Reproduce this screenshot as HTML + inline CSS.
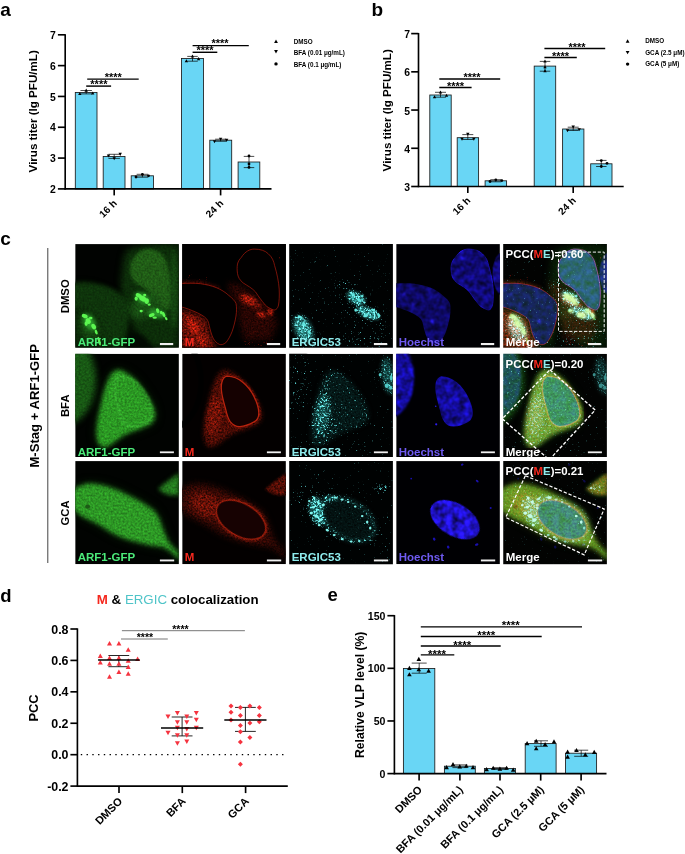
<!DOCTYPE html>
<html lang="en"><head><meta charset="utf-8"><title>Figure</title>
<style>html,body{margin:0;padding:0;background:#fff}svg{display:block;will-change:transform}</style></head>
<body>
<svg width="685" height="854" viewBox="0 0 685 854" font-family="'Liberation Sans', sans-serif">
<rect width="685" height="854" fill="#fff"/>
<defs><filter id="b03" filterUnits="userSpaceOnUse" x="-20" y="-20" width="145" height="145" color-interpolation-filters="sRGB"><feGaussianBlur stdDeviation="0.35"/></filter><filter id="b06" filterUnits="userSpaceOnUse" x="-20" y="-20" width="145" height="145" color-interpolation-filters="sRGB"><feGaussianBlur stdDeviation="0.6"/></filter><filter id="b1" filterUnits="userSpaceOnUse" x="-20" y="-20" width="145" height="145" color-interpolation-filters="sRGB"><feGaussianBlur stdDeviation="1.0"/></filter><filter id="b15" filterUnits="userSpaceOnUse" x="-20" y="-20" width="145" height="145" color-interpolation-filters="sRGB"><feGaussianBlur stdDeviation="1.5"/></filter><filter id="b2" filterUnits="userSpaceOnUse" x="-20" y="-20" width="145" height="145" color-interpolation-filters="sRGB"><feGaussianBlur stdDeviation="2.2"/></filter><filter id="b3" filterUnits="userSpaceOnUse" x="-20" y="-20" width="145" height="145" color-interpolation-filters="sRGB"><feGaussianBlur stdDeviation="3.2"/></filter><filter id="b5" filterUnits="userSpaceOnUse" x="-20" y="-20" width="145" height="145" color-interpolation-filters="sRGB"><feGaussianBlur stdDeviation="5"/></filter><filter id="gr1" filterUnits="userSpaceOnUse" x="0" y="0" width="104" height="104" color-interpolation-filters="sRGB"><feTurbulence type="fractalNoise" baseFrequency="0.5" numOctaves="2" seed="3" result="t"/><feColorMatrix in="t" type="matrix" values="1 0 0 0 0 1 0 0 0 0 1 0 0 0 0 0 0 0 0 1" result="g"/><feComposite in="SourceGraphic" in2="g" operator="arithmetic" k1="0.7" k2="0.65" k3="0" k4="0"/></filter><filter id="gr2" filterUnits="userSpaceOnUse" x="0" y="0" width="104" height="104" color-interpolation-filters="sRGB"><feTurbulence type="fractalNoise" baseFrequency="0.5" numOctaves="2" seed="11" result="t"/><feColorMatrix in="t" type="matrix" values="1 0 0 0 0 1 0 0 0 0 1 0 0 0 0 0 0 0 0 1" result="g"/><feComposite in="SourceGraphic" in2="g" operator="arithmetic" k1="0.7" k2="0.65" k3="0" k4="0"/></filter><filter id="gr3" filterUnits="userSpaceOnUse" x="0" y="0" width="104" height="104" color-interpolation-filters="sRGB"><feTurbulence type="fractalNoise" baseFrequency="0.5" numOctaves="2" seed="23" result="t"/><feColorMatrix in="t" type="matrix" values="1 0 0 0 0 1 0 0 0 0 1 0 0 0 0 0 0 0 0 1" result="g"/><feComposite in="SourceGraphic" in2="g" operator="arithmetic" k1="0.7" k2="0.65" k3="0" k4="0"/></filter><filter id="grn" filterUnits="userSpaceOnUse" x="0" y="0" width="104" height="104" color-interpolation-filters="sRGB"><feTurbulence type="fractalNoise" baseFrequency="0.16" numOctaves="2" seed="7" result="t"/><feColorMatrix in="t" type="matrix" values="1 0 0 0 0 1 0 0 0 0 1 0 0 0 0 0 0 0 0 1" result="g"/><feComposite in="SourceGraphic" in2="g" operator="arithmetic" k1="1.7" k2="0.1" k3="0" k4="0"/></filter><filter id="grn2" filterUnits="userSpaceOnUse" x="0" y="0" width="104" height="104" color-interpolation-filters="sRGB"><feTurbulence type="fractalNoise" baseFrequency="0.16" numOctaves="2" seed="21" result="t"/><feColorMatrix in="t" type="matrix" values="1 0 0 0 0 1 0 0 0 0 1 0 0 0 0 0 0 0 0 1" result="g"/><feComposite in="SourceGraphic" in2="g" operator="arithmetic" k1="1.7" k2="0.1" k3="0" k4="0"/></filter><filter id="grn3" filterUnits="userSpaceOnUse" x="0" y="0" width="104" height="104" color-interpolation-filters="sRGB"><feTurbulence type="fractalNoise" baseFrequency="0.16" numOctaves="2" seed="33" result="t"/><feColorMatrix in="t" type="matrix" values="1 0 0 0 0 1 0 0 0 0 1 0 0 0 0 0 0 0 0 1" result="g"/><feComposite in="SourceGraphic" in2="g" operator="arithmetic" k1="1.7" k2="0.1" k3="0" k4="0"/></filter><filter id="grm" filterUnits="userSpaceOnUse" x="0" y="0" width="104" height="104" color-interpolation-filters="sRGB"><feTurbulence type="fractalNoise" baseFrequency="0.55" numOctaves="2" seed="5" result="t"/><feColorMatrix in="t" type="matrix" values="1 0 0 0 0 1 0 0 0 0 1 0 0 0 0 0 0 0 0 1" result="g"/><feComposite in="SourceGraphic" in2="g" operator="arithmetic" k1="2.0" k2="-0.1" k3="0" k4="0"/></filter><filter id="grm2" filterUnits="userSpaceOnUse" x="0" y="0" width="104" height="104" color-interpolation-filters="sRGB"><feTurbulence type="fractalNoise" baseFrequency="0.55" numOctaves="2" seed="37" result="t"/><feColorMatrix in="t" type="matrix" values="1 0 0 0 0 1 0 0 0 0 1 0 0 0 0 0 0 0 0 1" result="g"/><feComposite in="SourceGraphic" in2="g" operator="arithmetic" k1="2.0" k2="-0.1" k3="0" k4="0"/></filter><filter id="grs" filterUnits="userSpaceOnUse" x="0" y="0" width="104" height="104" color-interpolation-filters="sRGB"><feTurbulence type="fractalNoise" baseFrequency="0.7" numOctaves="2" seed="5" result="t"/><feColorMatrix in="t" type="matrix" values="1 0 0 0 0 1 0 0 0 0 1 0 0 0 0 0 0 0 0 1" result="g"/><feComposite in="SourceGraphic" in2="g" operator="arithmetic" k1="4.2" k2="0" k3="0" k4="-1.7" result="c"/><feColorMatrix in="c" type="matrix" values="1 0 0 0 0 0.13 0 0 0 0 0.06 0 0 0 0 0 0 0 1 0" result="m"/></filter><filter id="grs2" filterUnits="userSpaceOnUse" x="0" y="0" width="104" height="104" color-interpolation-filters="sRGB"><feTurbulence type="fractalNoise" baseFrequency="0.7" numOctaves="2" seed="13" result="t"/><feColorMatrix in="t" type="matrix" values="1 0 0 0 0 1 0 0 0 0 1 0 0 0 0 0 0 0 0 1" result="g"/><feComposite in="SourceGraphic" in2="g" operator="arithmetic" k1="4.2" k2="0" k3="0" k4="-1.7" result="c"/><feColorMatrix in="c" type="matrix" values="1 0 0 0 0 0.13 0 0 0 0 0.06 0 0 0 0 0 0 0 1 0" result="m"/></filter><filter id="grs3" filterUnits="userSpaceOnUse" x="0" y="0" width="104" height="104" color-interpolation-filters="sRGB"><feTurbulence type="fractalNoise" baseFrequency="0.7" numOctaves="2" seed="19" result="t"/><feColorMatrix in="t" type="matrix" values="1 0 0 0 0 1 0 0 0 0 1 0 0 0 0 0 0 0 0 1" result="g"/><feComposite in="SourceGraphic" in2="g" operator="arithmetic" k1="4.2" k2="0" k3="0" k4="-1.7" result="c"/><feColorMatrix in="c" type="matrix" values="1 0 0 0 0 0.13 0 0 0 0 0.06 0 0 0 0 0 0 0 1 0" result="m"/></filter><filter id="grc" filterUnits="userSpaceOnUse" x="0" y="0" width="104" height="104" color-interpolation-filters="sRGB"><feTurbulence type="fractalNoise" baseFrequency="0.52" numOctaves="2" seed="9" result="t"/><feColorMatrix in="t" type="matrix" values="1 0 0 0 0 1 0 0 0 0 1 0 0 0 0 0 0 0 0 1" result="g"/><feComposite in="SourceGraphic" in2="g" operator="arithmetic" k1="6" k2="0" k3="0" k4="-2.4" result="c"/><feColorMatrix in="c" type="matrix" values="0 0.42 0 0 0 0 1 0 0 0 0 0 1 0 0 0 0 0 1 0" result="m"/><feGaussianBlur in="m" stdDeviation="0.42"/></filter><filter id="grc2" filterUnits="userSpaceOnUse" x="0" y="0" width="104" height="104" color-interpolation-filters="sRGB"><feTurbulence type="fractalNoise" baseFrequency="0.52" numOctaves="2" seed="31" result="t"/><feColorMatrix in="t" type="matrix" values="1 0 0 0 0 1 0 0 0 0 1 0 0 0 0 0 0 0 0 1" result="g"/><feComposite in="SourceGraphic" in2="g" operator="arithmetic" k1="6" k2="0" k3="0" k4="-2.4" result="c"/><feColorMatrix in="c" type="matrix" values="0 0.42 0 0 0 0 1 0 0 0 0 0 1 0 0 0 0 0 1 0" result="m"/><feGaussianBlur in="m" stdDeviation="0.42"/></filter><filter id="grc3" filterUnits="userSpaceOnUse" x="0" y="0" width="104" height="104" color-interpolation-filters="sRGB"><feTurbulence type="fractalNoise" baseFrequency="0.52" numOctaves="2" seed="47" result="t"/><feColorMatrix in="t" type="matrix" values="1 0 0 0 0 1 0 0 0 0 1 0 0 0 0 0 0 0 0 1" result="g"/><feComposite in="SourceGraphic" in2="g" operator="arithmetic" k1="6" k2="0" k3="0" k4="-2.4" result="c"/><feColorMatrix in="c" type="matrix" values="0 0.42 0 0 0 0 1 0 0 0 0 0 1 0 0 0 0 0 1 0" result="m"/><feGaussianBlur in="m" stdDeviation="0.42"/></filter><filter id="sp1" filterUnits="userSpaceOnUse" x="0" y="0" width="104" height="104" color-interpolation-filters="sRGB"><feTurbulence type="fractalNoise" baseFrequency="0.65" numOctaves="2" seed="7" result="t"/><feColorMatrix in="t" type="matrix" values="0 0 0 0 1 0 0 0 0 1 0 0 0 0 1 10 0 0 0 -6.0" result="m"/><feComposite in="SourceGraphic" in2="m" operator="in"/></filter><filter id="sp2" filterUnits="userSpaceOnUse" x="0" y="0" width="104" height="104" color-interpolation-filters="sRGB"><feTurbulence type="fractalNoise" baseFrequency="0.65" numOctaves="2" seed="17" result="t"/><feColorMatrix in="t" type="matrix" values="0 0 0 0 1 0 0 0 0 1 0 0 0 0 1 10 0 0 0 -6.0" result="m"/><feComposite in="SourceGraphic" in2="m" operator="in"/></filter><filter id="sp3" filterUnits="userSpaceOnUse" x="0" y="0" width="104" height="104" color-interpolation-filters="sRGB"><feTurbulence type="fractalNoise" baseFrequency="0.65" numOctaves="2" seed="29" result="t"/><feColorMatrix in="t" type="matrix" values="0 0 0 0 1 0 0 0 0 1 0 0 0 0 1 10 0 0 0 -6.0" result="m"/><feComposite in="SourceGraphic" in2="m" operator="in"/></filter><filter id="spd" filterUnits="userSpaceOnUse" x="0" y="0" width="104" height="104" color-interpolation-filters="sRGB"><feTurbulence type="fractalNoise" baseFrequency="0.8" numOctaves="2" seed="41" result="t"/><feColorMatrix in="t" type="matrix" values="0 0 0 0 1 0 0 0 0 1 0 0 0 0 1 12 0 0 0 -8.4" result="m"/><feComposite in="SourceGraphic" in2="m" operator="in"/></filter><clipPath id="pc0"><rect x="0" y="0" width="103.7" height="103.7"/></clipPath><clipPath id="pc1"><rect x="0" y="0" width="103.7" height="103.3"/></clipPath><clipPath id="pc2"><rect x="0" y="0" width="103.7" height="103.1"/></clipPath><g id="g1"><g filter="url(#gr1)"><path d="M50,8C58,0 85,-2 104,0L104,104L66,104C60,92 57,82 54,72C47,62 44,46 46,32C47,22 48,14 50,8Z" fill="#0c2d09" filter="url(#b3)"/><path d="M-2,40C14,36 34,44 46,56C54,68 55,84 52,104L-2,104Z" fill="#0b2a08" filter="url(#b3)"/><path d="M59,13.5C63,7 68,5 72,5C78,5 83,6.5 86,9.6C90,13 91.5,17 92.4,21.4C95,30 96.5,38 97,45C97.3,52 97,57 96.3,60.9C95.5,65 93,66.5 90.8,65.6C88,64.5 85,63 83,60.9C79,56 76,52 73.5,48C70,44 65,41.5 60.9,38.8C57.5,36 55.8,33 55.3,29.3C54.8,26 54.8,23 55.3,19.9C56,17 57.5,15 59,13.5Z" fill="#205c16" filter="url(#b15)"/><path d="M-2,39.6C6,39 12,39 18.3,39.6C24,40.5 29,41.5 34,43.5C39,45.5 43,48 46.7,51.4C50,54 52.5,56.5 53.8,59.3C54.5,63 54.5,67 53.8,71.9C53,77 51.5,83 49.8,87.7C48,92 46,96 43.5,98.7C41.5,100.3 39,101 37.2,100.3C34.5,99 32.5,97 30.9,94C29,90 28,85.5 27,81.4C26.5,79 26,77 24.6,75C22,72 18,70 13.6,68C9,66 4,64 -2,62.4Z" fill="#0e340b" filter="url(#b2)"/><ellipse cx="70" cy="62" rx="17" ry="11" transform="rotate(-30 70 62)" fill="#184f13" filter="url(#b3)"/><ellipse cx="14" cy="84" rx="9" ry="14" transform="rotate(-25 14 84)" fill="#164a11" filter="url(#b3)"/><ellipse cx="99" cy="45" rx="4" ry="40" fill="#154811" filter="url(#b2)"/><path d="M50,106L55,90C61,86 70,89 79,106Z" fill="#020a02" filter="url(#b2)"/></g><g filter="url(#b2)" fill="#2fae30" opacity="0.9"><ellipse cx="67" cy="54" rx="8" ry="4.5" transform="rotate(30 67 54)" /><ellipse cx="82" cy="69.5" rx="9" ry="4" transform="rotate(10 82 69.5)" /><ellipse cx="14" cy="78" rx="5" ry="9" transform="rotate(-30 14 78)" /></g><g filter="url(#b06)" fill="#5cf650"><ellipse cx="63.5" cy="51.5" rx="3.2" ry="2.0" transform="rotate(30 63.5 51.5)" /><ellipse cx="67.5" cy="54.5" rx="3.8" ry="2.6" transform="rotate(30 67.5 54.5)" /><ellipse cx="71.5" cy="57" rx="2.2" ry="2.8" /><ellipse cx="66" cy="67" rx="1.6" ry="1.4" /><ellipse cx="76.5" cy="71" rx="3.0" ry="1.8" transform="rotate(-20 76.5 71)" /><ellipse cx="82.5" cy="66.5" rx="1.6" ry="2.5" transform="rotate(-20 82.5 66.5)" /><ellipse cx="88.5" cy="70.5" rx="1.4" ry="2.9" transform="rotate(-25 88.5 70.5)" /><ellipse cx="9.5" cy="72" rx="3.0" ry="2.0" transform="rotate(20 9.5 72)" /><ellipse cx="13" cy="77" rx="2.4" ry="3.0" transform="rotate(-30 13 77)" /><ellipse cx="18.5" cy="82.5" rx="2.1" ry="3.0" transform="rotate(-30 18.5 82.5)" /><ellipse cx="24" cy="97" rx="1.2" ry="4.5" transform="rotate(-15 24 97)" /><ellipse cx="61" cy="54.5" rx="1.6" ry="2.2" /><ellipse cx="69.5" cy="51" rx="1.6" ry="1.3" /><ellipse cx="74" cy="60.5" rx="1.5" ry="1.2" /><ellipse cx="79.5" cy="73.5" rx="2.2" ry="1.2" /><ellipse cx="86" cy="68.5" rx="1.3" ry="1.8" /><ellipse cx="91" cy="74.5" rx="1.1" ry="1.8" transform="rotate(-30 91 74.5)" /><ellipse cx="11" cy="79.5" rx="1.6" ry="2.4" /><ellipse cx="15.5" cy="74" rx="1.8" ry="1.3" /><ellipse cx="21" cy="88" rx="1.3" ry="2.6" transform="rotate(-20 21 88)" /></g></g><g id="r1"><g filter="url(#grs)"><rect x="0" y="0" width="104" height="104" fill="#000"/><path d="M44,34L60,40L75,50L90,66L97,82L92,104L58,104L55,75L55,58L46,48Z" fill="#aa0000" filter="url(#b2)"/><path d="M-2,66C10,67 21,71 25,79C27,89 30,98 35,104L-2,104Z" fill="#c00000" filter="url(#b15)"/><path d="M-2,24L28,30L40,44L-2,41Z" fill="#a00000" filter="url(#b3)"/><ellipse cx="97" cy="12" rx="6" ry="10" fill="#980000" filter="url(#b2)"/></g><g filter="url(#grm)"><path d="M46,38L60,42L75,52L90,66L95,80L88,96L62,96L57,75L56,60L48,50Z" fill="#2c0603" filter="url(#b3)"/><path d="M-2,66C10,67 21,71 25,79C27,89 30,98 35,104L-2,104Z" fill="#701208" filter="url(#b2)"/><path d="M-2,37L20,37L38,43L36,47L18,42L-2,42Z" fill="#3a0804" filter="url(#b15)"/><ellipse cx="66.5" cy="56" rx="9.5" ry="4.6" transform="rotate(25 66.5 56)" fill="#a81b0b" filter="url(#b15)"/><ellipse cx="79" cy="70.5" rx="4.6" ry="2.8" transform="rotate(20 79 70.5)" fill="#b01c0c" filter="url(#b1)"/><ellipse cx="88" cy="68" rx="3" ry="3.6" fill="#a81b0b" filter="url(#b1)"/><ellipse cx="75" cy="62" rx="5" ry="3" fill="#6c1107" filter="url(#b15)"/><ellipse cx="11" cy="82" rx="4.5" ry="10" transform="rotate(-28 11 82)" fill="#c01e0d" filter="url(#b15)"/><ellipse cx="20" cy="97" rx="4" ry="7" transform="rotate(-20 20 97)" fill="#b01c0c" filter="url(#b15)"/></g><path d="M59,13.5C63,7 68,5 72,5C78,5 83,6.5 86,9.6C90,13 91.5,17 92.4,21.4C95,30 96.5,38 97,45C97.3,52 97,57 96.3,60.9C95.5,65 93,66.5 90.8,65.6C88,64.5 85,63 83,60.9C79,56 76,52 73.5,48C70,44 65,41.5 60.9,38.8C57.5,36 55.8,33 55.3,29.3C54.8,26 54.8,23 55.3,19.9C56,17 57.5,15 59,13.5Z" fill="#020000"/><path d="M-2,39.6C6,39 12,39 18.3,39.6C24,40.5 29,41.5 34,43.5C39,45.5 43,48 46.7,51.4C50,54 52.5,56.5 53.8,59.3C54.5,63 54.5,67 53.8,71.9C53,77 51.5,83 49.8,87.7C48,92 46,96 43.5,98.7C41.5,100.3 39,101 37.2,100.3C34.5,99 32.5,97 30.9,94C29,90 28,85.5 27,81.4C26.5,79 26,77 24.6,75C22,72 18,70 13.6,68C9,66 4,64 -2,62.4Z" fill="#020000"/><path d="M59,13.5C63,7 68,5 72,5C78,5 83,6.5 86,9.6C90,13 91.5,17 92.4,21.4C95,30 96.5,38 97,45C97.3,52 97,57 96.3,60.9C95.5,65 93,66.5 90.8,65.6C88,64.5 85,63 83,60.9C79,56 76,52 73.5,48C70,44 65,41.5 60.9,38.8C57.5,36 55.8,33 55.3,29.3C54.8,26 54.8,23 55.3,19.9C56,17 57.5,15 59,13.5Z" fill="none" stroke="#b81c0d" stroke-width="0.65" filter="url(#b03)"/><path d="M-2,39.6C6,39 12,39 18.3,39.6C24,40.5 29,41.5 34,43.5C39,45.5 43,48 46.7,51.4C50,54 52.5,56.5 53.8,59.3C54.5,63 54.5,67 53.8,71.9C53,77 51.5,83 49.8,87.7C48,92 46,96 43.5,98.7C41.5,100.3 39,101 37.2,100.3C34.5,99 32.5,97 30.9,94C29,90 28,85.5 27,81.4C26.5,79 26,77 24.6,75C22,72 18,70 13.6,68C9,66 4,64 -2,62.4Z" fill="none" stroke="#b81c0d" stroke-width="0.65" filter="url(#b03)"/></g><g id="c1"><g filter="url(#grm)"><ellipse cx="67" cy="54" rx="10" ry="5.5" transform="rotate(28 67 54)" fill="#2a8c88" filter="url(#b15)"/><ellipse cx="79" cy="69" rx="12" ry="5" transform="rotate(22 79 69)" fill="#2a8c88" filter="url(#b15)"/><ellipse cx="14" cy="85" rx="8" ry="14" transform="rotate(-28 14 85)" fill="#2a8884" filter="url(#b2)"/></g><g filter="url(#grc)" style="mix-blend-mode:screen"><rect x="0" y="0" width="104" height="104" fill="#008e8e"/><path d="M44,30L60,36L77,48L93,66L99,82L94,104L56,104L53,75L53,58L44,46Z" fill="#009e9e" filter="url(#b3)"/><ellipse cx="67" cy="54" rx="10.5" ry="6" transform="rotate(28 67 54)" fill="#00d8d8" filter="url(#b15)"/><ellipse cx="79" cy="69" rx="12.5" ry="5.5" transform="rotate(22 79 69)" fill="#00d8d8" filter="url(#b15)"/><ellipse cx="14" cy="84" rx="8.5" ry="15" transform="rotate(-28 14 84)" fill="#00d0d0" filter="url(#b2)"/></g><g filter="url(#b06)" fill="#62e6e0"><ellipse cx="64" cy="50.5" rx="2.0" ry="1.2" transform="rotate(30 64 50.5)" /><ellipse cx="70" cy="56" rx="2.6" ry="1.4" transform="rotate(30 70 56)" /><ellipse cx="73" cy="52" rx="1.4" ry="1.1" /><ellipse cx="66.5" cy="66" rx="1.4" ry="1.6" /><ellipse cx="76.5" cy="71.5" rx="2.6" ry="1.5" transform="rotate(-20 76.5 71.5)" /><ellipse cx="84" cy="66" rx="2.2" ry="1.3" transform="rotate(30 84 66)" /><ellipse cx="89.5" cy="71" rx="1.3" ry="2.3" transform="rotate(-25 89.5 71)" /><ellipse cx="11" cy="73" rx="2.8" ry="1.3" transform="rotate(30 11 73)" /><ellipse cx="15" cy="80" rx="2.4" ry="1.3" transform="rotate(50 15 80)" /><ellipse cx="20" cy="88" rx="2.0" ry="1.3" transform="rotate(50 20 88)" /></g></g><g id="n1"><g filter="url(#grn)"><path d="M59,13.5C63,7 68,5 72,5C78,5 83,6.5 86,9.6C90,13 91.5,17 92.4,21.4C95,30 96.5,38 97,45C97.3,52 97,57 96.3,60.9C95.5,65 93,66.5 90.8,65.6C88,64.5 85,63 83,60.9C79,56 76,52 73.5,48C70,44 65,41.5 60.9,38.8C57.5,36 55.8,33 55.3,29.3C54.8,26 54.8,23 55.3,19.9C56,17 57.5,15 59,13.5Z" fill="#100a78" filter="url(#b06)"/><path d="M-2,39.6C6,39 12,39 18.3,39.6C24,40.5 29,41.5 34,43.5C39,45.5 43,48 46.7,51.4C50,54 52.5,56.5 53.8,59.3C54.5,63 54.5,67 53.8,71.9C53,77 51.5,83 49.8,87.7C48,92 46,96 43.5,98.7C41.5,100.3 39,101 37.2,100.3C34.5,99 32.5,97 30.9,94C29,90 28,85.5 27,81.4C26.5,79 26,77 24.6,75C22,72 18,70 13.6,68C9,66 4,64 -2,62.4Z" fill="#0e0968" filter="url(#b06)"/><ellipse cx="109" cy="31" rx="12.5" ry="23" transform="rotate(-5 109 31)" fill="#120b80" filter="url(#b06)"/><path d="M59,13.5C63,7 68,5 72,5C78,5 83,6.5 86,9.6C90,13 91.5,17 92.4,21.4C95,30 96.5,38 97,45C97.3,52 97,57 96.3,60.9C95.5,65 93,66.5 90.8,65.6C88,64.5 85,63 83,60.9C79,56 76,52 73.5,48C70,44 65,41.5 60.9,38.8C57.5,36 55.8,33 55.3,29.3C54.8,26 54.8,23 55.3,19.9C56,17 57.5,15 59,13.5Z" fill="none" stroke="#1a10a8" stroke-width="1" filter="url(#b06)"/><g fill="#2216c8" filter="url(#b1)"><ellipse cx="72" cy="22" rx="2" ry="1.5" /><ellipse cx="77" cy="30" rx="1.5" ry="1.5" /><ellipse cx="87" cy="44" rx="1.5" ry="1.5" /><ellipse cx="66" cy="14" rx="1.5" ry="1.2" /><ellipse cx="17" cy="60" rx="2" ry="1.5" /><ellipse cx="36" cy="77" rx="1.8" ry="1.8" /><ellipse cx="8" cy="50" rx="2" ry="1.5" /></g></g></g><g id="g2"><g filter="url(#gr2)"><ellipse cx="-13" cy="26" rx="34" ry="46" fill="#185814" filter="url(#b3)"/><path d="M43.5,16C50,18 56,22 60.9,27C66,33 70,39 73.5,44.5C77,50 79,55 79.8,60.2C80,65 78,69 73.5,71.3C66,75 57,77.5 49.8,80.7C44,84 39,88.5 34,91.8C30,94 26.5,94 24.6,91.8C22,88 21,82 21.4,76C22,67 24,58 26.2,49.2C28,40 30.5,31 34,24C36.5,19 40,16 43.5,16Z" fill="#0d300b" filter="url(#b5)"/><path d="M43.5,16C50,18 56,22 60.9,27C66,33 70,39 73.5,44.5C77,50 79,55 79.8,60.2C80,65 78,69 73.5,71.3C66,75 57,77.5 49.8,80.7C44,84 39,88.5 34,91.8C30,94 26.5,94 24.6,91.8C22,88 21,82 21.4,76C22,67 24,58 26.2,49.2C28,40 30.5,31 34,24C36.5,19 40,16 43.5,16Z" fill="#2b9823" filter="url(#b2)"/><path d="M45,22.4C51,22.5 56.5,25 60.9,28.7C66,33 69.5,38 71.9,42.9C74.5,48 76.3,53.5 76.6,58.6C76.8,63 75,66.5 71.9,68.1C67.5,70.5 62.5,72.5 57.7,72.8C53.5,73 50.5,71 48.2,68.1C45.5,64.5 44.5,60 43.5,55.5C42,50 40.5,45 39.6,39.7C39,36 38.8,32 39.6,28.7C40.5,25 42.5,22.8 45,22.4Z" fill="none" stroke="#40b838" stroke-width="1.2" filter="url(#b1)"/></g></g><g id="r2"><g filter="url(#grs2)"><ellipse cx="-13" cy="28" rx="32" ry="47" fill="none" stroke="#a80000" stroke-width="6" filter="url(#b2)"/></g><g filter="url(#grm)"><path d="M43.5,16C50,18 56,22 60.9,27C66,33 70,39 73.5,44.5C77,50 79,55 79.8,60.2C80,65 78,69 73.5,71.3C66,75 57,77.5 49.8,80.7C44,84 39,88.5 34,91.8C30,94 26.5,94 24.6,91.8C22,88 21,82 21.4,76C22,67 24,58 26.2,49.2C28,40 30.5,31 34,24C36.5,19 40,16 43.5,16Z" fill="#520d05" filter="url(#b2)"/><ellipse cx="32" cy="62" rx="7" ry="20" transform="rotate(8 32 62)" fill="#7c1408" filter="url(#b2)"/><path d="M45,22.4C51,22.5 56.5,25 60.9,28.7C66,33 69.5,38 71.9,42.9C74.5,48 76.3,53.5 76.6,58.6C76.8,63 75,66.5 71.9,68.1C67.5,70.5 62.5,72.5 57.7,72.8C53.5,73 50.5,71 48.2,68.1C45.5,64.5 44.5,60 43.5,55.5C42,50 40.5,45 39.6,39.7C39,36 38.8,32 39.6,28.7C40.5,25 42.5,22.8 45,22.4Z" fill="none" stroke="#6a1107" stroke-width="3.5" filter="url(#b1)"/></g><path d="M45,22.4C51,22.5 56.5,25 60.9,28.7C66,33 69.5,38 71.9,42.9C74.5,48 76.3,53.5 76.6,58.6C76.8,63 75,66.5 71.9,68.1C67.5,70.5 62.5,72.5 57.7,72.8C53.5,73 50.5,71 48.2,68.1C45.5,64.5 44.5,60 43.5,55.5C42,50 40.5,45 39.6,39.7C39,36 38.8,32 39.6,28.7C40.5,25 42.5,22.8 45,22.4Z" fill="#150101" filter="url(#b06)"/><path d="M45,22.4C51,22.5 56.5,25 60.9,28.7C66,33 69.5,38 71.9,42.9C74.5,48 76.3,53.5 76.6,58.6C76.8,63 75,66.5 71.9,68.1C67.5,70.5 62.5,72.5 57.7,72.8C53.5,73 50.5,71 48.2,68.1C45.5,64.5 44.5,60 43.5,55.5C42,50 40.5,45 39.6,39.7C39,36 38.8,32 39.6,28.7C40.5,25 42.5,22.8 45,22.4Z" fill="none" stroke="#b8230e" stroke-width="1.3" filter="url(#b06)"/></g><g id="c2"><g filter="url(#grm2)"><path d="M43.5,16C50,18 56,22 60.9,27C66,33 70,39 73.5,44.5C77,50 79,55 79.8,60.2C80,65 78,69 73.5,71.3C66,75 57,77.5 49.8,80.7C44,84 39,88.5 34,91.8C30,94 26.5,94 24.6,91.8C22,88 21,82 21.4,76C22,67 24,58 26.2,49.2C28,40 30.5,31 34,24C36.5,19 40,16 43.5,16Z" fill="#051a19" filter="url(#b2)"/><ellipse cx="33" cy="60" rx="7" ry="20" transform="rotate(8 33 60)" fill="#14504d" filter="url(#b2)"/><ellipse cx="99" cy="22" rx="6" ry="18" transform="rotate(-8 99 22)" fill="#14504d" filter="url(#b2)"/></g><g filter="url(#grc2)" style="mix-blend-mode:screen"><rect x="0" y="0" width="104" height="104" fill="#008e8e"/><ellipse cx="-8" cy="25" rx="30" ry="45" fill="#009c9c" filter="url(#b3)"/><path d="M43.5,16C50,18 56,22 60.9,27C66,33 70,39 73.5,44.5C77,50 79,55 79.8,60.2C80,65 78,69 73.5,71.3C66,75 57,77.5 49.8,80.7C44,84 39,88.5 34,91.8C30,94 26.5,94 24.6,91.8C22,88 21,82 21.4,76C22,67 24,58 26.2,49.2C28,40 30.5,31 34,24C36.5,19 40,16 43.5,16Z" fill="#00b0b0" filter="url(#b2)"/><ellipse cx="33" cy="60" rx="8" ry="22" transform="rotate(8 33 60)" fill="#00cccc" filter="url(#b2)"/><ellipse cx="99" cy="22" rx="7" ry="20" transform="rotate(-8 99 22)" fill="#00b8b8" filter="url(#b2)"/><path d="M45,22.4C51,22.5 56.5,25 60.9,28.7C66,33 69.5,38 71.9,42.9C74.5,48 76.3,53.5 76.6,58.6C76.8,63 75,66.5 71.9,68.1C67.5,70.5 62.5,72.5 57.7,72.8C53.5,73 50.5,71 48.2,68.1C45.5,64.5 44.5,60 43.5,55.5C42,50 40.5,45 39.6,39.7C39,36 38.8,32 39.6,28.7C40.5,25 42.5,22.8 45,22.4Z" fill="#009696" filter="url(#b15)" opacity="0.85"/></g><g filter="url(#b06)" fill="#4fc8c4"><ellipse cx="91" cy="21" rx="1.5" ry="1.8" /><ellipse cx="97.5" cy="32" rx="2.0" ry="2.2" /><ellipse cx="102" cy="24" rx="1.4" ry="2.8" /><ellipse cx="101.5" cy="34" rx="1.5" ry="2.0" /></g></g><g id="n2"><g filter="url(#grn2)"><ellipse cx="-12" cy="24" rx="30" ry="42" fill="#150da4" filter="url(#b1)"/><path d="M45,22.4C51,22.5 56.5,25 60.9,28.7C66,33 69.5,38 71.9,42.9C74.5,48 76.3,53.5 76.6,58.6C76.8,63 75,66.5 71.9,68.1C67.5,70.5 62.5,72.5 57.7,72.8C53.5,73 50.5,71 48.2,68.1C45.5,64.5 44.5,60 43.5,55.5C42,50 40.5,45 39.6,39.7C39,36 38.8,32 39.6,28.7C40.5,25 42.5,22.8 45,22.4Z" fill="#140c9c" filter="url(#b06)"/></g><ellipse cx="39.5" cy="52.5" rx="0.8" ry="0.8" fill="#2418d8"/><ellipse cx="40" cy="70.5" rx="1.1" ry="1.1" fill="#2a1cf0"/></g><g id="g3"><g filter="url(#gr3)"><path d="M-2,28.7C4,25 9,22.8 13.6,22.4C22,22.5 30,24.5 37.2,27.1C45,30 53,34 60.9,38.2C67,41.5 73,45 78.2,49.2C82,53 84.5,58 86,63.4C88,69 90,74.5 92.4,79.1C94,82 98,86 104,92L104,99C98,92 92,87 86,85.4C77,84.5 69,83 60.9,80.7C54,79 48,77 42,74.4C36,71.5 31,68.5 26.2,65C20,61.5 13.5,58.5 7.3,55.5C4,53.5 2,51 -2,47.6Z" fill="#0d300b" filter="url(#b5)"/><path d="M-2,28.7C4,25 9,22.8 13.6,22.4C22,22.5 30,24.5 37.2,27.1C45,30 53,34 60.9,38.2C67,41.5 73,45 78.2,49.2C82,53 84.5,58 86,63.4C88,69 90,74.5 92.4,79.1C94,82 98,86 104,92L104,99C98,92 92,87 86,85.4C77,84.5 69,83 60.9,80.7C54,79 48,77 42,74.4C36,71.5 31,68.5 26.2,65C20,61.5 13.5,58.5 7.3,55.5C4,53.5 2,51 -2,47.6Z" fill="#2d9825" filter="url(#b2)"/><path d="M104,12C96,17.5 89,22.5 83,28C86,30.5 89,32.5 92.4,33.4C96,34.2 99.5,34.4 104,34.2Z" fill="#257e1f" filter="url(#b2)"/></g><ellipse cx="12.5" cy="45.5" rx="2.4" ry="2.2" fill="#1d5a16" filter="url(#b06)"/></g><g id="r3"><g filter="url(#grm2)"><path d="M-2,28.7C4,25 9,22.8 13.6,22.4C22,22.5 30,24.5 37.2,27.1C45,30 53,34 60.9,38.2C67,41.5 73,45 78.2,49.2C82,53 84.5,58 86,63.4C88,69 90,74.5 92.4,79.1C94,82 98,86 104,92L104,99C98,92 92,87 86,85.4C77,84.5 69,83 60.9,80.7C54,79 48,77 42,74.4C36,71.5 31,68.5 26.2,65C20,61.5 13.5,58.5 7.3,55.5C4,53.5 2,51 -2,47.6Z" fill="#3a0904" filter="url(#b3)"/><ellipse cx="24" cy="44" rx="17" ry="11" transform="rotate(25 24 44)" fill="#741308" filter="url(#b3)"/><ellipse cx="58.8" cy="58.6" rx="27.2" ry="16" transform="rotate(31 58.8 58.6)" fill="none" stroke="#6c1208" stroke-width="4" filter="url(#b1)"/><path d="M104,12C96,17.5 89,22.5 83,28C86,30.5 89,32.5 92.4,33.4C96,34.2 99.5,34.4 104,34.2Z" fill="#5c0f06" filter="url(#b1)"/></g><ellipse cx="58.8" cy="58.6" rx="27.2" ry="16" transform="rotate(31 58.8 58.6)" fill="#170202" filter="url(#b06)"/><ellipse cx="58.8" cy="58.6" rx="27.2" ry="16" transform="rotate(31 58.8 58.6)" fill="none" stroke="#ac200c" stroke-width="1.2" filter="url(#b06)"/></g><g id="c3"><g filter="url(#grm)"><ellipse cx="58.8" cy="58.6" rx="27.2" ry="16" transform="rotate(31 58.8 58.6)" fill="none" stroke="#0c302e" stroke-width="7" filter="url(#b2)"/><ellipse cx="29" cy="50" rx="7.5" ry="14" transform="rotate(-20 29 50)" fill="#1f6f6b" filter="url(#b2)"/><ellipse cx="42" cy="38" rx="8" ry="3" transform="rotate(5 42 38)" fill="#195b58" filter="url(#b15)"/><ellipse cx="58.8" cy="58.6" rx="27.2" ry="16" transform="rotate(31 58.8 58.6)" fill="#041413" filter="url(#b15)"/></g><g filter="url(#grc3)" style="mix-blend-mode:screen"><rect x="0" y="0" width="104" height="104" fill="#008b8b"/><path d="M-2,28.7C4,25 9,22.8 13.6,22.4C22,22.5 30,24.5 37.2,27.1C45,30 53,34 60.9,38.2C67,41.5 73,45 78.2,49.2C82,53 84.5,58 86,63.4C88,69 90,74.5 92.4,79.1C94,82 98,86 104,92L104,99C98,92 92,87 86,85.4C77,84.5 69,83 60.9,80.7C54,79 48,77 42,74.4C36,71.5 31,68.5 26.2,65C20,61.5 13.5,58.5 7.3,55.5C4,53.5 2,51 -2,47.6Z" fill="#009898" filter="url(#b3)"/><ellipse cx="58.8" cy="58.6" rx="27.2" ry="16" transform="rotate(31 58.8 58.6)" fill="none" stroke="#00bcbc" stroke-width="7" filter="url(#b15)"/><ellipse cx="29" cy="50" rx="8" ry="15" transform="rotate(-20 29 50)" fill="#00e0e0" filter="url(#b2)"/><ellipse cx="42" cy="38" rx="9" ry="3.5" transform="rotate(5 42 38)" fill="#00d0d0" filter="url(#b15)"/><ellipse cx="92" cy="27" rx="8" ry="4" fill="#00c4c4" filter="url(#b15)"/><ellipse cx="58.8" cy="58.6" rx="27.2" ry="16" transform="rotate(31 58.8 58.6)" fill="#008888" filter="url(#b15)"/></g><g filter="url(#b06)" fill="#7ff5ee"><ellipse cx="25" cy="37" rx="1.3" ry="1.3" /><ellipse cx="29" cy="41" rx="1.5" ry="1.2" /><ellipse cx="24" cy="46" rx="1.4" ry="1.2" /><ellipse cx="22" cy="52" rx="1.7" ry="1.4" /><ellipse cx="27" cy="55" rx="2.0" ry="1.7" /><ellipse cx="31" cy="59" rx="1.9" ry="1.5" /><ellipse cx="30" cy="64" rx="1.4" ry="1.2" /><ellipse cx="38" cy="69" rx="1.7" ry="1.2" transform="rotate(30 38 69)" /><ellipse cx="46" cy="36.5" rx="1.9" ry="1.1" /><ellipse cx="73" cy="55" rx="1.3" ry="1.1" /><ellipse cx="78" cy="61" rx="1.2" ry="1.6" /><ellipse cx="53" cy="38.5" rx="1.5" ry="1.1" /><ellipse cx="59" cy="41" rx="1.3" ry="1.0" /><ellipse cx="66" cy="45.5" rx="1.3" ry="1.1" /><ellipse cx="45" cy="74" rx="1.5" ry="1.1" /><ellipse cx="53" cy="78" rx="1.6" ry="1.2" /><ellipse cx="62" cy="80.5" rx="1.4" ry="1.1" /><ellipse cx="70" cy="80" rx="1.3" ry="1.0" /><ellipse cx="81" cy="67" rx="1.2" ry="1.5" /><ellipse cx="34" cy="44" rx="1.6" ry="1.3" /><ellipse cx="20" cy="40" rx="1.2" ry="1.1" /></g></g><g id="n3"><g filter="url(#grn3)"><ellipse cx="58.8" cy="58.6" rx="27.2" ry="16" transform="rotate(31 58.8 58.6)" fill="#2012cc" filter="url(#b06)"/></g><g fill="#1a10b0" filter="url(#b03)"><ellipse cx="38" cy="78" rx="1.2" ry="1.6" transform="rotate(-30 38 78)" /><ellipse cx="52" cy="86" rx="1.2" ry="1.5" transform="rotate(-30 52 86)" /><ellipse cx="80.5" cy="83.5" rx="1.8" ry="1.1" transform="rotate(-20 80.5 83.5)" /><ellipse cx="81" cy="20" rx="1.6" ry="1.0" transform="rotate(40 81 20)" /><ellipse cx="66" cy="3.5" rx="1.4" ry="0.9" transform="rotate(-30 66 3.5)" /><ellipse cx="94.5" cy="47" rx="1" ry="1" /><ellipse cx="15" cy="17.5" rx="0.9" ry="0.9" /></g></g></defs>
<text x="0.2" y="15.7" font-size="19" font-weight="bold" text-anchor="start" fill="#000" >a</text>
<rect x="75.3" y="92.5" width="21.7" height="96.4" fill="#69D6F5" stroke="#1a1a1a" stroke-width="0.85"/>
<rect x="103.2" y="156.5" width="21.8" height="32.4" fill="#69D6F5" stroke="#1a1a1a" stroke-width="0.85"/>
<rect x="131.2" y="175.8" width="22.3" height="13.1" fill="#69D6F5" stroke="#1a1a1a" stroke-width="0.85"/>
<rect x="181.5" y="58.5" width="22" height="130.4" fill="#69D6F5" stroke="#1a1a1a" stroke-width="0.85"/>
<rect x="209.8" y="140.2" width="21.9" height="48.7" fill="#69D6F5" stroke="#1a1a1a" stroke-width="0.85"/>
<rect x="238.1" y="162" width="21.7" height="26.9" fill="#69D6F5" stroke="#1a1a1a" stroke-width="0.85"/>
<line x1="65.2" y1="34.2" x2="65.2" y2="189.55" stroke="#000" stroke-width="1.65" />
<line x1="64.55" y1="188.9" x2="271.5" y2="188.9" stroke="#000" stroke-width="1.65" />
<line x1="57.9" y1="34.8" x2="65.2" y2="34.8" stroke="#000" stroke-width="1.65" />
<text x="55.9" y="39" font-size="10.4" font-weight="bold" text-anchor="end" fill="#000" >7</text>
<line x1="57.9" y1="65.62" x2="65.2" y2="65.62" stroke="#000" stroke-width="1.65" />
<text x="55.9" y="69.82" font-size="10.4" font-weight="bold" text-anchor="end" fill="#000" >6</text>
<line x1="57.9" y1="96.44" x2="65.2" y2="96.44" stroke="#000" stroke-width="1.65" />
<text x="55.9" y="100.64" font-size="10.4" font-weight="bold" text-anchor="end" fill="#000" >5</text>
<line x1="57.9" y1="127.26" x2="65.2" y2="127.26" stroke="#000" stroke-width="1.65" />
<text x="55.9" y="131.46" font-size="10.4" font-weight="bold" text-anchor="end" fill="#000" >4</text>
<line x1="57.9" y1="158.08" x2="65.2" y2="158.08" stroke="#000" stroke-width="1.65" />
<text x="55.9" y="162.28" font-size="10.4" font-weight="bold" text-anchor="end" fill="#000" >3</text>
<line x1="57.9" y1="188.9" x2="65.2" y2="188.9" stroke="#000" stroke-width="1.65" />
<text x="55.9" y="193.1" font-size="10.4" font-weight="bold" text-anchor="end" fill="#000" >2</text>
<line x1="114.2" y1="188.9" x2="114.2" y2="195.4" stroke="#000" stroke-width="1.65" />
<line x1="220.6" y1="188.9" x2="220.6" y2="195.4" stroke="#000" stroke-width="1.65" />
<text x="0" y="0" transform="translate(36.9 111.3) rotate(-90)" font-size="11.6" font-weight="bold" text-anchor="middle" fill="#000" >Virus titer (lg PFU/mL)</text>
<text x="0" y="0" transform="translate(117.5 204) rotate(-45)" font-size="10" font-weight="bold" text-anchor="end" fill="#000" >16 h</text>
<text x="0" y="0" transform="translate(224 204) rotate(-45)" font-size="10" font-weight="bold" text-anchor="end" fill="#000" >24 h</text>
<line x1="86.2" y1="90.5" x2="86.2" y2="93.9" stroke="#000" stroke-width="0.7" />
<line x1="80.45" y1="90.5" x2="91.95" y2="90.5" stroke="#000" stroke-width="0.7" />
<line x1="80.45" y1="93.9" x2="91.95" y2="93.9" stroke="#000" stroke-width="0.7" />
<path d="M79.8 91.9L81.5 94.96L78.1 94.96Z" fill="#000"/>
<path d="M86.2 88.6L87.9 91.66L84.5 91.66Z" fill="#000"/>
<path d="M92.7 91.5L94.4 94.56L91 94.56Z" fill="#000"/>
<line x1="114.2" y1="154.3" x2="114.2" y2="158.4" stroke="#000" stroke-width="0.7" />
<line x1="108.45" y1="154.3" x2="119.95" y2="154.3" stroke="#000" stroke-width="0.7" />
<line x1="108.45" y1="158.4" x2="119.95" y2="158.4" stroke="#000" stroke-width="0.7" />
<path d="M108.5 157.5L110.2 154.44L106.8 154.44Z" fill="#000"/>
<path d="M114.2 160.3L115.9 157.24L112.5 157.24Z" fill="#000"/>
<path d="M120.2 155.9L121.9 152.84L118.5 152.84Z" fill="#000"/>
<line x1="142.4" y1="174.3" x2="142.4" y2="177.2" stroke="#000" stroke-width="0.7" />
<line x1="136.65" y1="174.3" x2="148.15" y2="174.3" stroke="#000" stroke-width="0.7" />
<line x1="136.65" y1="177.2" x2="148.15" y2="177.2" stroke="#000" stroke-width="0.7" />
<circle cx="136" cy="177" r="1.4" fill="#000"/>
<circle cx="142.4" cy="174.3" r="1.4" fill="#000"/>
<circle cx="148.5" cy="175.8" r="1.4" fill="#000"/>
<line x1="192.5" y1="56.4" x2="192.5" y2="61.2" stroke="#000" stroke-width="0.7" />
<line x1="187.25" y1="56.4" x2="197.75" y2="56.4" stroke="#000" stroke-width="0.7" />
<line x1="187.25" y1="61.2" x2="197.75" y2="61.2" stroke="#000" stroke-width="0.7" />
<path d="M186.4 59.3L188.1 62.36L184.7 62.36Z" fill="#000"/>
<path d="M192.5 54.5L194.2 57.56L190.8 57.56Z" fill="#000"/>
<path d="M198.6 57.1L200.3 60.16L196.9 60.16Z" fill="#000"/>
<line x1="220.6" y1="139.2" x2="220.6" y2="141.3" stroke="#000" stroke-width="0.7" />
<line x1="215.1" y1="139.2" x2="226.1" y2="139.2" stroke="#000" stroke-width="0.7" />
<line x1="215.1" y1="141.3" x2="226.1" y2="141.3" stroke="#000" stroke-width="0.7" />
<path d="M214.5 143.2L216.2 140.14L212.8 140.14Z" fill="#000"/>
<path d="M220.6 140.7L222.3 137.64L218.9 137.64Z" fill="#000"/>
<path d="M226.6 141.9L228.3 138.84L224.9 138.84Z" fill="#000"/>
<line x1="249" y1="156.4" x2="249" y2="167.6" stroke="#000" stroke-width="0.7" />
<line x1="243.75" y1="156.4" x2="254.25" y2="156.4" stroke="#000" stroke-width="0.7" />
<line x1="243.75" y1="167.6" x2="254.25" y2="167.6" stroke="#000" stroke-width="0.7" />
<circle cx="249" cy="156" r="1.4" fill="#000"/>
<circle cx="249" cy="164" r="1.4" fill="#000"/>
<circle cx="249" cy="167.4" r="1.4" fill="#000"/>
<line x1="87.2" y1="79.1" x2="138.7" y2="79.1" stroke="#000" stroke-width="1.45" />
<line x1="86.2" y1="86.1" x2="111.1" y2="86.1" stroke="#000" stroke-width="1.45" />
<text x="113.2" y="81.22" font-size="11" font-weight="bold" text-anchor="middle" fill="#000" >****</text>
<text x="98.9" y="88.42" font-size="11" font-weight="bold" text-anchor="middle" fill="#000" >****</text>
<line x1="192.6" y1="45.6" x2="248.8" y2="45.6" stroke="#000" stroke-width="1.45" />
<line x1="192.6" y1="52.3" x2="217.3" y2="52.3" stroke="#000" stroke-width="1.45" />
<text x="220" y="47.42" font-size="11" font-weight="bold" text-anchor="middle" fill="#000" >****</text>
<text x="205" y="54.22" font-size="11" font-weight="bold" text-anchor="middle" fill="#000" >****</text>
<path d="M276 39.6L277.9 43.02L274.1 43.02Z" fill="#000"/>
<path d="M276 53.5L277.9 50.08L274.1 50.08Z" fill="#000"/>
<circle cx="276" cy="63.9" r="1.7" fill="#000"/>
<text x="293.7" y="43.9" font-size="6.3" font-weight="bold" text-anchor="start" fill="#000" >DMSO</text>
<text x="293.7" y="54.6" font-size="6.3" font-weight="bold" text-anchor="start" fill="#000" >BFA (0.01 μg/mL)</text>
<text x="293.7" y="66.8" font-size="6.3" font-weight="bold" text-anchor="start" fill="#000" >BFA (0.1 μg/mL)</text>
<text x="371.6" y="15.5" font-size="19" font-weight="bold" text-anchor="start" fill="#000" >b</text>
<rect x="429.8" y="95" width="21.4" height="91.5" fill="#69D6F5" stroke="#1a1a1a" stroke-width="0.85"/>
<rect x="457.2" y="137.7" width="21.4" height="48.8" fill="#69D6F5" stroke="#1a1a1a" stroke-width="0.85"/>
<rect x="485.1" y="180.8" width="21.5" height="5.7" fill="#69D6F5" stroke="#1a1a1a" stroke-width="0.85"/>
<rect x="534.2" y="66.1" width="21.5" height="120.4" fill="#69D6F5" stroke="#1a1a1a" stroke-width="0.85"/>
<rect x="562.6" y="129" width="21.3" height="57.5" fill="#69D6F5" stroke="#1a1a1a" stroke-width="0.85"/>
<rect x="590.7" y="163.8" width="21.3" height="22.7" fill="#69D6F5" stroke="#1a1a1a" stroke-width="0.85"/>
<line x1="418.5" y1="33" x2="418.5" y2="187.15" stroke="#000" stroke-width="1.65" />
<line x1="417.85" y1="186.5" x2="623.7" y2="186.5" stroke="#000" stroke-width="1.65" />
<line x1="411.2" y1="33.6" x2="418.5" y2="33.6" stroke="#000" stroke-width="1.65" />
<text x="410" y="38.1" font-size="10.4" font-weight="bold" text-anchor="end" fill="#000" >7</text>
<line x1="411.2" y1="71.83" x2="418.5" y2="71.83" stroke="#000" stroke-width="1.65" />
<text x="410" y="76.33" font-size="10.4" font-weight="bold" text-anchor="end" fill="#000" >6</text>
<line x1="411.2" y1="110.05" x2="418.5" y2="110.05" stroke="#000" stroke-width="1.65" />
<text x="410" y="114.55" font-size="10.4" font-weight="bold" text-anchor="end" fill="#000" >5</text>
<line x1="411.2" y1="148.28" x2="418.5" y2="148.28" stroke="#000" stroke-width="1.65" />
<text x="410" y="152.78" font-size="10.4" font-weight="bold" text-anchor="end" fill="#000" >4</text>
<line x1="411.2" y1="186.5" x2="418.5" y2="186.5" stroke="#000" stroke-width="1.65" />
<text x="410" y="191" font-size="10.4" font-weight="bold" text-anchor="end" fill="#000" >3</text>
<line x1="467.8" y1="186.5" x2="467.8" y2="193" stroke="#000" stroke-width="1.65" />
<line x1="573.2" y1="186.5" x2="573.2" y2="193" stroke="#000" stroke-width="1.65" />
<text x="0" y="0" transform="translate(390.9 110.3) rotate(-90)" font-size="11.6" font-weight="bold" text-anchor="middle" fill="#000" >Virus titer (lg PFU/mL)</text>
<text x="0" y="0" transform="translate(471 201.3) rotate(-45)" font-size="10" font-weight="bold" text-anchor="end" fill="#000" >16 h</text>
<text x="0" y="0" transform="translate(576.5 201.3) rotate(-45)" font-size="10" font-weight="bold" text-anchor="end" fill="#000" >24 h</text>
<line x1="440.5" y1="92.3" x2="440.5" y2="97.2" stroke="#000" stroke-width="0.7" />
<line x1="435" y1="92.3" x2="446" y2="92.3" stroke="#000" stroke-width="0.7" />
<line x1="435" y1="97.2" x2="446" y2="97.2" stroke="#000" stroke-width="0.7" />
<path d="M434.5 95.3L436.2 98.36L432.8 98.36Z" fill="#000"/>
<path d="M440.5 90.5L442.2 93.56L438.8 93.56Z" fill="#000"/>
<path d="M446.5 93.8L448.2 96.86L444.8 96.86Z" fill="#000"/>
<line x1="467.8" y1="134.6" x2="467.8" y2="139.5" stroke="#000" stroke-width="0.7" />
<line x1="462.3" y1="134.6" x2="473.3" y2="134.6" stroke="#000" stroke-width="0.7" />
<line x1="462.3" y1="139.5" x2="473.3" y2="139.5" stroke="#000" stroke-width="0.7" />
<path d="M462 140.7L463.7 137.64L460.3 137.64Z" fill="#000"/>
<path d="M467.8 135.7L469.5 132.64L466.1 132.64Z" fill="#000"/>
<path d="M473.8 140.7L475.5 137.64L472.1 137.64Z" fill="#000"/>
<line x1="495.8" y1="179.7" x2="495.8" y2="181.8" stroke="#000" stroke-width="0.7" />
<line x1="490.3" y1="179.7" x2="501.3" y2="179.7" stroke="#000" stroke-width="0.7" />
<line x1="490.3" y1="181.8" x2="501.3" y2="181.8" stroke="#000" stroke-width="0.7" />
<circle cx="490" cy="181.5" r="1.4" fill="#000"/>
<circle cx="495.8" cy="179.8" r="1.4" fill="#000"/>
<circle cx="501.8" cy="180.6" r="1.4" fill="#000"/>
<line x1="545" y1="61.4" x2="545" y2="71.2" stroke="#000" stroke-width="0.7" />
<line x1="539.75" y1="61.4" x2="550.25" y2="61.4" stroke="#000" stroke-width="0.7" />
<line x1="539.75" y1="71.2" x2="550.25" y2="71.2" stroke="#000" stroke-width="0.7" />
<path d="M545 59.5L546.7 62.56L543.3 62.56Z" fill="#000"/>
<path d="M545 65.3L546.7 68.36L543.3 68.36Z" fill="#000"/>
<path d="M545 69.3L546.7 72.36L543.3 72.36Z" fill="#000"/>
<line x1="573.2" y1="127.2" x2="573.2" y2="130.5" stroke="#000" stroke-width="0.7" />
<line x1="567.7" y1="127.2" x2="578.7" y2="127.2" stroke="#000" stroke-width="0.7" />
<line x1="567.7" y1="130.5" x2="578.7" y2="130.5" stroke="#000" stroke-width="0.7" />
<path d="M567.5 132.2L569.2 129.14L565.8 129.14Z" fill="#000"/>
<path d="M573.2 128.5L574.9 125.44L571.5 125.44Z" fill="#000"/>
<path d="M579.2 131.2L580.9 128.14L577.5 128.14Z" fill="#000"/>
<line x1="601.3" y1="160.4" x2="601.3" y2="166.5" stroke="#000" stroke-width="0.7" />
<line x1="596.05" y1="160.4" x2="606.55" y2="160.4" stroke="#000" stroke-width="0.7" />
<line x1="596.05" y1="166.5" x2="606.55" y2="166.5" stroke="#000" stroke-width="0.7" />
<circle cx="601.3" cy="160.6" r="1.4" fill="#000"/>
<circle cx="607" cy="163.3" r="1.4" fill="#000"/>
<circle cx="601.3" cy="166.5" r="1.4" fill="#000"/>
<line x1="439.3" y1="78.9" x2="500.2" y2="78.9" stroke="#000" stroke-width="1.45" />
<line x1="439.3" y1="87.4" x2="471.6" y2="87.4" stroke="#000" stroke-width="1.45" />
<text x="472" y="81.02" font-size="11" font-weight="bold" text-anchor="middle" fill="#000" >****</text>
<text x="455.5" y="89.52" font-size="11" font-weight="bold" text-anchor="middle" fill="#000" >****</text>
<line x1="544.4" y1="48.5" x2="605.2" y2="48.5" stroke="#000" stroke-width="1.45" />
<line x1="544.4" y1="57.5" x2="576.8" y2="57.5" stroke="#000" stroke-width="1.45" />
<text x="577" y="50.62" font-size="11" font-weight="bold" text-anchor="middle" fill="#000" >****</text>
<text x="560.5" y="59.62" font-size="11" font-weight="bold" text-anchor="middle" fill="#000" >****</text>
<path d="M627.6 39.3L629.5 42.72L625.7 42.72Z" fill="#000"/>
<path d="M627.6 54.3L629.5 50.88L625.7 50.88Z" fill="#000"/>
<circle cx="627.6" cy="64.1" r="1.7" fill="#000"/>
<text x="645.2" y="42.9" font-size="6.3" font-weight="bold" text-anchor="start" fill="#000" >DMSO</text>
<text x="645.2" y="54.5" font-size="6.3" font-weight="bold" text-anchor="start" fill="#000" >GCA (2.5 μM)</text>
<text x="645.2" y="66.3" font-size="6.3" font-weight="bold" text-anchor="start" fill="#000" >GCA (5 μM)</text>
<text x="0.3" y="245.3" font-size="19" font-weight="bold" text-anchor="start" fill="#000" >c</text>
<line x1="47.8" y1="248" x2="47.8" y2="563" stroke="#444" stroke-width="1" />
<text x="0" y="0" transform="translate(38.5 405.8) rotate(-90)" font-size="13.1" font-weight="bold" text-anchor="middle" fill="#000" >M-Stag + ARF1-GFP</text>
<text x="0" y="0" transform="translate(69 296.25) rotate(-90)" font-size="11.3" font-weight="bold" text-anchor="middle" fill="#000" >DMSO</text>
<text x="0" y="0" transform="translate(69 405.75) rotate(-90)" font-size="11.3" font-weight="bold" text-anchor="middle" fill="#000" >BFA</text>
<text x="0" y="0" transform="translate(69 512.95) rotate(-90)" font-size="11.3" font-weight="bold" text-anchor="middle" fill="#000" >GCA</text>
<g transform="translate(75.2 244.1)" clip-path="url(#pc0)"><rect x="0" y="0" width="103.7" height="103.7" fill="#010301"/><use href="#g1"/><text x="2.5" y="101.45" font-size="11.5" font-weight="bold" fill="#4CEB7A">ARF1-GFP</text><rect x="84.7" y="98.9" width="13.3" height="2.1" fill="#f0f0f0"/></g>
<g transform="translate(182.2 244.1)" clip-path="url(#pc0)"><rect x="0" y="0" width="103.7" height="103.7" fill="#030000"/><use href="#r1"/><text x="2.5" y="101.45" font-size="11.5" font-weight="bold" fill="#F5281E">M</text><rect x="84.7" y="98.9" width="13.3" height="2.1" fill="#f0f0f0"/></g>
<g transform="translate(289.2 244.1)" clip-path="url(#pc0)"><rect x="0" y="0" width="103.7" height="103.7" fill="#000202"/><use href="#c1"/><text x="2.5" y="101.45" font-size="11.5" font-weight="bold" fill="#8FEDEE">ERGIC53</text><rect x="84.7" y="98.9" width="13.3" height="2.1" fill="#f0f0f0"/></g>
<g transform="translate(396.2 244.1)" clip-path="url(#pc0)"><rect x="0" y="0" width="103.7" height="103.7" fill="#000003"/><use href="#n1"/><text x="2.5" y="101.45" font-size="11.5" font-weight="bold" fill="#6E5AF0">Hoechst</text><rect x="84.7" y="98.9" width="13.3" height="2.1" fill="#f0f0f0"/></g>
<g transform="translate(503.2 244.1)" clip-path="url(#pc0)" style="isolation:isolate"><rect x="0" y="0" width="103.7" height="103.7" fill="#020302"/><use href="#g1" opacity="0.6"/><use href="#n1" style="mix-blend-mode:screen" opacity="0.85"/><use href="#r1" style="mix-blend-mode:screen" opacity="1"/><use href="#c1" style="mix-blend-mode:screen" opacity="1"/><g filter="url(#b1)" fill="#d8ffa0" opacity="0.85"><ellipse cx="66" cy="53.5" rx="6.5" ry="3.2" transform="rotate(32 66 53.5)" /><ellipse cx="71.5" cy="58.5" rx="3" ry="2.2" transform="rotate(20 71.5 58.5)" /><ellipse cx="68" cy="67" rx="2.5" ry="2" /><ellipse cx="78" cy="71" rx="4.5" ry="2.6" transform="rotate(10 78 71)" /><ellipse cx="84.5" cy="67" rx="2.5" ry="2.8" /><ellipse cx="89.5" cy="71.5" rx="2" ry="3.2" transform="rotate(-25 89.5 71.5)" /><ellipse cx="10" cy="73" rx="4" ry="2.6" transform="rotate(25 10 73)" /><ellipse cx="14.5" cy="79.5" rx="3" ry="4.2" transform="rotate(-30 14.5 79.5)" /><ellipse cx="20" cy="87" rx="2.4" ry="4.5" transform="rotate(-25 20 87)" /></g><g style="mix-blend-mode:screen"><path d="M59,13.5C63,7 68,5 72,5C78,5 83,6.5 86,9.6C90,13 91.5,17 92.4,21.4C95,30 96.5,38 97,45C97.3,52 97,57 96.3,60.9C95.5,65 93,66.5 90.8,65.6C88,64.5 85,63 83,60.9C79,56 76,52 73.5,48C70,44 65,41.5 60.9,38.8C57.5,36 55.8,33 55.3,29.3C54.8,26 54.8,23 55.3,19.9C56,17 57.5,15 59,13.5Z" fill="#0c3412" filter="url(#b1)"/></g><rect x="55.3" y="8" width="45.7" height="79.3" fill="none" stroke="#fff" stroke-width="0.95" stroke-dasharray="3.2 1.7"/><text x="2.3" y="13.8" font-size="11.45" font-weight="bold" fill="#fff">PCC(<tspan fill="#F5281E">M</tspan><tspan fill="#8FEDEE">E</tspan>)=0.60</text><text x="2.5" y="101.45" font-size="11.5" font-weight="bold" fill="#fff">Merge</text><rect x="84.7" y="98.9" width="13.3" height="2.1" fill="#f0f0f0"/></g>
<g transform="translate(75.2 353.8)" clip-path="url(#pc1)"><rect x="0" y="0" width="103.7" height="103.3" fill="#010301"/><use href="#g2"/><text x="2.5" y="101.85" font-size="11.5" font-weight="bold" fill="#4CEB7A">ARF1-GFP</text><rect x="84.7" y="97.6" width="14.0" height="1.8" fill="#f0f0f0"/></g>
<g transform="translate(182.2 353.8)" clip-path="url(#pc1)"><rect x="0" y="0" width="103.7" height="103.3" fill="#030000"/><use href="#r2"/><text x="2.5" y="101.85" font-size="11.5" font-weight="bold" fill="#F5281E">M</text><rect x="84.7" y="97.6" width="14.0" height="1.8" fill="#f0f0f0"/></g>
<g transform="translate(289.2 353.8)" clip-path="url(#pc1)"><rect x="0" y="0" width="103.7" height="103.3" fill="#000202"/><use href="#c2"/><text x="2.5" y="101.85" font-size="11.5" font-weight="bold" fill="#8FEDEE">ERGIC53</text><rect x="84.7" y="97.6" width="14.0" height="1.8" fill="#f0f0f0"/></g>
<g transform="translate(396.2 353.8)" clip-path="url(#pc1)"><rect x="0" y="0" width="103.7" height="103.3" fill="#000003"/><use href="#n2"/><text x="2.5" y="101.85" font-size="11.5" font-weight="bold" fill="#6E5AF0">Hoechst</text><rect x="84.7" y="97.6" width="14.0" height="1.8" fill="#f0f0f0"/></g>
<g transform="translate(503.2 353.8)" clip-path="url(#pc1)" style="isolation:isolate"><rect x="0" y="0" width="103.7" height="103.3" fill="#020302"/><use href="#g2" opacity="0.9"/><use href="#n2" style="mix-blend-mode:screen" opacity="0.45"/><use href="#r2" style="mix-blend-mode:screen" opacity="0.8"/><use href="#c2" style="mix-blend-mode:screen" opacity="0.7"/><g style="mix-blend-mode:screen"><path d="M43.5,16C50,18 56,22 60.9,27C66,33 70,39 73.5,44.5C77,50 79,55 79.8,60.2C80,65 78,69 73.5,71.3C66,75 57,77.5 49.8,80.7C44,84 39,88.5 34,91.8C30,94 26.5,94 24.6,91.8C22,88 21,82 21.4,76C22,67 24,58 26.2,49.2C28,40 30.5,31 34,24C36.5,19 40,16 43.5,16Z" fill="#1e1a00" filter="url(#b2)"/><path d="M45,22.4C51,22.5 56.5,25 60.9,28.7C66,33 69.5,38 71.9,42.9C74.5,48 76.3,53.5 76.6,58.6C76.8,63 75,66.5 71.9,68.1C67.5,70.5 62.5,72.5 57.7,72.8C53.5,73 50.5,71 48.2,68.1C45.5,64.5 44.5,60 43.5,55.5C42,50 40.5,45 39.6,39.7C39,36 38.8,32 39.6,28.7C40.5,25 42.5,22.8 45,22.4Z" fill="#000" filter="url(#b06)"/></g><path d="M46.7,16L92,56.3L46,106L-1,65Z" fill="none" stroke="#fff" stroke-width="1.35" stroke-dasharray="3.4 1.8"/><text x="2.3" y="13.8" font-size="11.45" font-weight="bold" fill="#fff">PCC(<tspan fill="#F5281E">M</tspan><tspan fill="#8FEDEE">E</tspan>)=0.20</text><text x="2.5" y="101.85" font-size="11.5" font-weight="bold" fill="#fff">Merge</text><rect x="84.7" y="97.6" width="14.0" height="1.8" fill="#f0f0f0"/></g>
<g transform="translate(75.2 461.1)" clip-path="url(#pc2)"><rect x="0" y="0" width="103.7" height="103.1" fill="#010301"/><use href="#g3"/><text x="2.5" y="99.7" font-size="11.5" font-weight="bold" fill="#4CEB7A">ARF1-GFP</text><rect x="84.7" y="98.4" width="14.3" height="1.9" fill="#f0f0f0"/></g>
<g transform="translate(182.2 461.1)" clip-path="url(#pc2)"><rect x="0" y="0" width="103.7" height="103.1" fill="#030000"/><use href="#r3"/><text x="2.5" y="99.7" font-size="11.5" font-weight="bold" fill="#F5281E">M</text><rect x="84.7" y="98.4" width="14.3" height="1.9" fill="#f0f0f0"/></g>
<g transform="translate(289.2 461.1)" clip-path="url(#pc2)"><rect x="0" y="0" width="103.7" height="103.1" fill="#000202"/><use href="#c3"/><text x="2.5" y="99.7" font-size="11.5" font-weight="bold" fill="#8FEDEE">ERGIC53</text><rect x="84.7" y="98.4" width="14.3" height="1.9" fill="#f0f0f0"/></g>
<g transform="translate(396.2 461.1)" clip-path="url(#pc2)"><rect x="0" y="0" width="103.7" height="103.1" fill="#000003"/><use href="#n3"/><text x="2.5" y="99.7" font-size="11.5" font-weight="bold" fill="#6E5AF0">Hoechst</text><rect x="84.7" y="98.4" width="14.3" height="1.9" fill="#f0f0f0"/></g>
<g transform="translate(503.2 461.1)" clip-path="url(#pc2)" style="isolation:isolate"><rect x="0" y="0" width="103.7" height="103.1" fill="#020302"/><use href="#g3" opacity="0.86"/><use href="#n3" style="mix-blend-mode:screen" opacity="0.42"/><use href="#r3" style="mix-blend-mode:screen" opacity="0.85"/><use href="#c3" style="mix-blend-mode:screen" opacity="0.75"/><g style="mix-blend-mode:screen"><path d="M-2,28.7C4,25 9,22.8 13.6,22.4C22,22.5 30,24.5 37.2,27.1C45,30 53,34 60.9,38.2C67,41.5 73,45 78.2,49.2C82,53 84.5,58 86,63.4C88,69 90,74.5 92.4,79.1C94,82 98,86 104,92L104,99C98,92 92,87 86,85.4C77,84.5 69,83 60.9,80.7C54,79 48,77 42,74.4C36,71.5 31,68.5 26.2,65C20,61.5 13.5,58.5 7.3,55.5C4,53.5 2,51 -2,47.6Z" fill="#2a2300" filter="url(#b2)"/><path d="M104,12C96,17.5 89,22.5 83,28C86,30.5 89,32.5 92.4,33.4C96,34.2 99.5,34.4 104,34.2Z" fill="#201b00" filter="url(#b15)"/><ellipse cx="58.8" cy="58.6" rx="27.2" ry="16" transform="rotate(31 58.8 58.6)" fill="#000" filter="url(#b06)"/></g><g filter="url(#b06)" fill="#c8fff0" opacity="0.85"><ellipse cx="25" cy="37" rx="1.5" ry="1.5" /><ellipse cx="29" cy="41" rx="1.8" ry="1.4" /><ellipse cx="24" cy="46" rx="1.6" ry="1.4" /><ellipse cx="35" cy="38" rx="2.0" ry="1.3" transform="rotate(-20 35 38)" /><ellipse cx="22" cy="52" rx="2.0" ry="1.6" /><ellipse cx="27" cy="55" rx="2.4" ry="2.0" /><ellipse cx="31" cy="59" rx="2.2" ry="1.8" /><ellipse cx="30" cy="64" rx="1.6" ry="1.4" /><ellipse cx="38" cy="69" rx="2.0" ry="1.4" transform="rotate(30 38 69)" /><ellipse cx="46" cy="36.5" rx="2.2" ry="1.3" /><ellipse cx="19" cy="44" rx="1.4" ry="1.2" /><ellipse cx="34" cy="47" rx="1.4" ry="1.6" /><ellipse cx="51" cy="76" rx="1.5" ry="1.2" /><ellipse cx="73" cy="55" rx="1.4" ry="1.2" /><ellipse cx="78" cy="61" rx="1.3" ry="1.7" /><ellipse cx="88" cy="27" rx="1.3" ry="1.1" /></g><path d="M22.2,14.6L101,47.9L81,93.8L2.5,56.4Z" fill="none" stroke="#fff" stroke-width="1.2" stroke-dasharray="3.4 1.8"/><text x="2.3" y="13.8" font-size="11.45" font-weight="bold" fill="#fff">PCC(<tspan fill="#F5281E">M</tspan><tspan fill="#8FEDEE">E</tspan>)=0.21</text><text x="2.5" y="99.7" font-size="11.5" font-weight="bold" fill="#fff">Merge</text><rect x="84.7" y="98.4" width="14.3" height="1.9" fill="#f0f0f0"/></g>
<text x="0.3" y="602.3" font-size="18.5" font-weight="bold" text-anchor="start" fill="#000" >d</text>
<text x="96.8" y="604" font-size="13.3" font-weight="bold"><tspan fill="#F5281E">M</tspan><tspan fill="#000"> &amp; </tspan><tspan fill="#4FC4C8" font-weight="normal">ERGIC</tspan><tspan fill="#000"> colocalization</tspan></text>
<line x1="77.4" y1="628.35" x2="77.4" y2="786.75" stroke="#000" stroke-width="1.65" />
<line x1="76.75" y1="786.1" x2="287.8" y2="786.1" stroke="#000" stroke-width="1.65" />
<line x1="70.4" y1="629" x2="77.4" y2="629" stroke="#000" stroke-width="1.65" />
<text x="68.5" y="633.5" font-size="12.4" font-weight="bold" text-anchor="end" fill="#000" >0.8</text>
<line x1="70.4" y1="660.42" x2="77.4" y2="660.42" stroke="#000" stroke-width="1.65" />
<text x="68.5" y="664.92" font-size="12.4" font-weight="bold" text-anchor="end" fill="#000" >0.6</text>
<line x1="70.4" y1="691.84" x2="77.4" y2="691.84" stroke="#000" stroke-width="1.65" />
<text x="68.5" y="696.34" font-size="12.4" font-weight="bold" text-anchor="end" fill="#000" >0.4</text>
<line x1="70.4" y1="723.26" x2="77.4" y2="723.26" stroke="#000" stroke-width="1.65" />
<text x="68.5" y="727.76" font-size="12.4" font-weight="bold" text-anchor="end" fill="#000" >0.2</text>
<line x1="70.4" y1="754.68" x2="77.4" y2="754.68" stroke="#000" stroke-width="1.65" />
<text x="68.5" y="759.18" font-size="12.4" font-weight="bold" text-anchor="end" fill="#000" >0.0</text>
<line x1="70.4" y1="786.1" x2="77.4" y2="786.1" stroke="#000" stroke-width="1.65" />
<text x="68.5" y="790.6" font-size="12.4" font-weight="bold" text-anchor="end" fill="#000" >-0.2</text>
<line x1="80.8" y1="754.68" x2="287" y2="754.68" stroke="#000" stroke-width="1.3" stroke-dasharray="1.4 4.35"/>
<line x1="119" y1="786.1" x2="119" y2="793.1" stroke="#000" stroke-width="1.65" />
<line x1="182.3" y1="786.1" x2="182.3" y2="793.1" stroke="#000" stroke-width="1.65" />
<line x1="245.6" y1="786.1" x2="245.6" y2="793.1" stroke="#000" stroke-width="1.65" />
<text x="0" y="0" transform="translate(37.9 708) rotate(-90)" font-size="12.9" font-weight="bold" text-anchor="middle" fill="#000" >PCC</text>
<text x="0" y="0" transform="translate(123 802) rotate(-45)" font-size="11" font-weight="bold" text-anchor="end" fill="#000" >DMSO</text>
<text x="0" y="0" transform="translate(186.3 802) rotate(-45)" font-size="11" font-weight="bold" text-anchor="end" fill="#000" >BFA</text>
<text x="0" y="0" transform="translate(249.6 802) rotate(-45)" font-size="11" font-weight="bold" text-anchor="end" fill="#000" >GCA</text>
<line x1="121.9" y1="630.7" x2="244.9" y2="630.7" stroke="#777" stroke-width="1" />
<line x1="121" y1="639" x2="167.8" y2="639" stroke="#777" stroke-width="1" />
<text x="180.4" y="632.51" font-size="10.5" font-weight="bold" text-anchor="middle" fill="#000" >****</text>
<text x="144.9" y="641.21" font-size="10.5" font-weight="bold" text-anchor="middle" fill="#000" >****</text>
<line x1="108.4" y1="655.5" x2="129.2" y2="655.5" stroke="#000" stroke-width="0.85" />
<line x1="108.4" y1="666.7" x2="129.2" y2="666.7" stroke="#000" stroke-width="0.85" />
<line x1="118.8" y1="655.5" x2="118.8" y2="666.7" stroke="#000" stroke-width="0.85" />
<path d="M109.5 641.1L112 645.6L107 645.6Z" fill="#F5333F"/>
<path d="M118.9 641.1L121.4 645.6L116.4 645.6Z" fill="#F5333F"/>
<path d="M128.2 647.3L130.7 651.8L125.7 651.8Z" fill="#F5333F"/>
<path d="M100.3 653.5L102.8 658L97.8 658Z" fill="#F5333F"/>
<path d="M109.5 655.4L112 659.9L107 659.9Z" fill="#F5333F"/>
<path d="M118.9 655.4L121.4 659.9L116.4 659.9Z" fill="#F5333F"/>
<path d="M128.2 658.3L130.7 662.8L125.7 662.8Z" fill="#F5333F"/>
<path d="M137.6 656.5L140.1 661L135.1 661Z" fill="#F5333F"/>
<path d="M100.3 660L102.8 664.5L97.8 664.5Z" fill="#F5333F"/>
<path d="M109.5 661.2L112 665.7L107 665.7Z" fill="#F5333F"/>
<path d="M118.9 661.2L121.4 665.7L116.4 665.7Z" fill="#F5333F"/>
<path d="M128.2 664.4L130.7 668.9L125.7 668.9Z" fill="#F5333F"/>
<path d="M118.9 669.5L121.4 674L116.4 674Z" fill="#F5333F"/>
<path d="M128.2 671.3L130.7 675.8L125.7 675.8Z" fill="#F5333F"/>
<path d="M109.5 674.3L112 678.8L107 678.8Z" fill="#F5333F"/>
<line x1="98.1" y1="660.1" x2="139.7" y2="660.1" stroke="#000" stroke-width="1.5" />
<line x1="171.7" y1="717" x2="192.5" y2="717" stroke="#000" stroke-width="0.85" />
<line x1="171.7" y1="735.9" x2="192.5" y2="735.9" stroke="#000" stroke-width="0.85" />
<line x1="182.1" y1="717" x2="182.1" y2="735.9" stroke="#000" stroke-width="0.85" />
<path d="M177.4 715.6L179.9 711.1L174.9 711.1Z" fill="#F5333F"/>
<path d="M196.3 715.6L198.8 711.1L193.8 711.1Z" fill="#F5333F"/>
<path d="M168 719.1L170.5 714.6L165.5 714.6Z" fill="#F5333F"/>
<path d="M186.8 719.1L189.3 714.6L184.3 714.6Z" fill="#F5333F"/>
<path d="M196.3 722.3L198.8 717.8L193.8 717.8Z" fill="#F5333F"/>
<path d="M177.4 724.8L179.9 720.3L174.9 720.3Z" fill="#F5333F"/>
<path d="M186.8 724.8L189.3 720.3L184.3 720.3Z" fill="#F5333F"/>
<path d="M177.4 730.3L179.9 725.8L174.9 725.8Z" fill="#F5333F"/>
<path d="M186.8 731.5L189.3 727L184.3 727Z" fill="#F5333F"/>
<path d="M196.3 730.3L198.8 725.8L193.8 725.8Z" fill="#F5333F"/>
<path d="M168 735.2L170.5 730.7L165.5 730.7Z" fill="#F5333F"/>
<path d="M177.4 737.7L179.9 733.2L174.9 733.2Z" fill="#F5333F"/>
<path d="M186.8 737.7L189.3 733.2L184.3 733.2Z" fill="#F5333F"/>
<path d="M177.4 745.7L179.9 741.2L174.9 741.2Z" fill="#F5333F"/>
<path d="M186.8 743.9L189.3 739.4L184.3 739.4Z" fill="#F5333F"/>
<line x1="161" y1="728" x2="203.2" y2="728" stroke="#000" stroke-width="1.5" />
<line x1="235" y1="707.4" x2="255.8" y2="707.4" stroke="#000" stroke-width="0.85" />
<line x1="235" y1="731.4" x2="255.8" y2="731.4" stroke="#000" stroke-width="0.85" />
<line x1="245.4" y1="707.4" x2="245.4" y2="731.4" stroke="#000" stroke-width="0.85" />
<path d="M231 703.6L233.5 706.1L231 708.6L228.5 706.1Z" fill="#F5333F"/>
<path d="M240.4 704.9L242.9 707.4L240.4 709.9L237.9 707.4Z" fill="#F5333F"/>
<path d="M249.9 703.6L252.4 706.1L249.9 708.6L247.4 706.1Z" fill="#F5333F"/>
<path d="M259.3 704.9L261.8 707.4L259.3 709.9L256.8 707.4Z" fill="#F5333F"/>
<path d="M231 709.8L233.5 712.3L231 714.8L228.5 712.3Z" fill="#F5333F"/>
<path d="M240.4 713.1L242.9 715.6L240.4 718.1L237.9 715.6Z" fill="#F5333F"/>
<path d="M259.3 713.1L261.8 715.6L259.3 718.1L256.8 715.6Z" fill="#F5333F"/>
<path d="M231 717.5L233.5 720L231 722.5L228.5 720Z" fill="#F5333F"/>
<path d="M249.9 720.5L252.4 723L249.9 725.5L247.4 723Z" fill="#F5333F"/>
<path d="M259.3 719.3L261.8 721.8L259.3 724.3L256.8 721.8Z" fill="#F5333F"/>
<path d="M240.4 723L242.9 725.5L240.4 728L237.9 725.5Z" fill="#F5333F"/>
<path d="M240.4 729.2L242.9 731.7L240.4 734.2L237.9 731.7Z" fill="#F5333F"/>
<path d="M249.9 734.9L252.4 737.4L249.9 739.9L247.4 737.4Z" fill="#F5333F"/>
<path d="M240.4 739.6L242.9 742.1L240.4 744.6L237.9 742.1Z" fill="#F5333F"/>
<path d="M240.4 761.7L242.9 764.2L240.4 766.7L237.9 764.2Z" fill="#F5333F"/>
<line x1="224.3" y1="720" x2="266.5" y2="720" stroke="#000" stroke-width="1.5" />
<text x="327.6" y="601.3" font-size="18.5" font-weight="bold" text-anchor="start" fill="#000" >e</text>
<rect x="403.4" y="668.5" width="31.4" height="105.1" fill="#69D6F5" stroke="#1a1a1a" stroke-width="0.85"/>
<rect x="444.4" y="766.2" width="30.9" height="7.4" fill="#69D6F5" stroke="#1a1a1a" stroke-width="0.85"/>
<rect x="484.4" y="768.5" width="31.1" height="5.1" fill="#69D6F5" stroke="#1a1a1a" stroke-width="0.85"/>
<rect x="525.2" y="743.6" width="30.9" height="30" fill="#69D6F5" stroke="#1a1a1a" stroke-width="0.85"/>
<rect x="565.5" y="753.2" width="31.1" height="20.4" fill="#69D6F5" stroke="#1a1a1a" stroke-width="0.85"/>
<line x1="394.4" y1="615.05" x2="394.4" y2="774.25" stroke="#000" stroke-width="1.65" />
<line x1="393.75" y1="773.6" x2="606.5" y2="773.6" stroke="#000" stroke-width="1.65" />
<line x1="387.4" y1="615.7" x2="394.4" y2="615.7" stroke="#000" stroke-width="1.65" />
<text x="385.5" y="619.6" font-size="10.6" font-weight="bold" text-anchor="end" fill="#000" >150</text>
<line x1="387.4" y1="668.33" x2="394.4" y2="668.33" stroke="#000" stroke-width="1.65" />
<text x="385.5" y="672.23" font-size="10.6" font-weight="bold" text-anchor="end" fill="#000" >100</text>
<line x1="387.4" y1="720.97" x2="394.4" y2="720.97" stroke="#000" stroke-width="1.65" />
<text x="385.5" y="724.87" font-size="10.6" font-weight="bold" text-anchor="end" fill="#000" >50</text>
<line x1="387.4" y1="773.6" x2="394.4" y2="773.6" stroke="#000" stroke-width="1.65" />
<text x="385.5" y="777.5" font-size="10.6" font-weight="bold" text-anchor="end" fill="#000" >0</text>
<line x1="419.1" y1="773.6" x2="419.1" y2="780.6" stroke="#000" stroke-width="1.65" />
<line x1="459.9" y1="773.6" x2="459.9" y2="780.6" stroke="#000" stroke-width="1.65" />
<line x1="500" y1="773.6" x2="500" y2="780.6" stroke="#000" stroke-width="1.65" />
<line x1="540.7" y1="773.6" x2="540.7" y2="780.6" stroke="#000" stroke-width="1.65" />
<line x1="581.1" y1="773.6" x2="581.1" y2="780.6" stroke="#000" stroke-width="1.65" />
<text x="0" y="0" transform="translate(363.8 694.8) rotate(-90)" font-size="12.2" font-weight="bold" text-anchor="middle" fill="#000" >Relative VLP level (%)</text>
<text x="0" y="0" transform="translate(422.9 790.4) rotate(-45)" font-size="11" font-weight="bold" text-anchor="end" fill="#000" >DMSO</text>
<text x="0" y="0" transform="translate(463.7 790.4) rotate(-45)" font-size="11" font-weight="bold" text-anchor="end" fill="#000" >BFA (0.01 μg/mL)</text>
<text x="0" y="0" transform="translate(503.8 790.4) rotate(-45)" font-size="11" font-weight="bold" text-anchor="end" fill="#000" >BFA (0.1 μg/mL)</text>
<text x="0" y="0" transform="translate(544.5 790.4) rotate(-45)" font-size="11" font-weight="bold" text-anchor="end" fill="#000" >GCA (2.5 μM)</text>
<text x="0" y="0" transform="translate(584.9 790.4) rotate(-45)" font-size="11" font-weight="bold" text-anchor="end" fill="#000" >GCA (5 μM)</text>
<line x1="420.8" y1="626.8" x2="582" y2="626.8" stroke="#000" stroke-width="1.3" />
<line x1="420.8" y1="636.5" x2="541.7" y2="636.5" stroke="#000" stroke-width="1.3" />
<line x1="420.8" y1="646" x2="500.7" y2="646" stroke="#000" stroke-width="1.3" />
<line x1="420.8" y1="654.9" x2="454.3" y2="654.9" stroke="#000" stroke-width="1.3" />
<text x="510.8" y="629.33" font-size="11.5" font-weight="bold" text-anchor="middle" fill="#000" >****</text>
<text x="486.3" y="639.33" font-size="11.5" font-weight="bold" text-anchor="middle" fill="#000" >****</text>
<text x="462.2" y="648.73" font-size="11.5" font-weight="bold" text-anchor="middle" fill="#000" >****</text>
<text x="437" y="657.73" font-size="11.5" font-weight="bold" text-anchor="middle" fill="#000" >****</text>
<line x1="419.2" y1="663.1" x2="419.2" y2="673.2" stroke="#000" stroke-width="0.7" />
<line x1="411.7" y1="663.1" x2="426.7" y2="663.1" stroke="#000" stroke-width="0.7" />
<line x1="411.7" y1="673.2" x2="426.7" y2="673.2" stroke="#000" stroke-width="0.7" />
<path d="M409.4 665.8L411.7 669.94L407.1 669.94Z" fill="#000"/>
<path d="M409.4 672.2L411.7 676.34L407.1 676.34Z" fill="#000"/>
<path d="M418.8 656.8L421.1 660.94L416.5 660.94Z" fill="#000"/>
<path d="M418.8 667.2L421.1 671.34L416.5 671.34Z" fill="#000"/>
<path d="M428.6 668.5L430.9 672.64L426.3 672.64Z" fill="#000"/>
<line x1="459.9" y1="764.9" x2="459.9" y2="767.6" stroke="#000" stroke-width="0.7" />
<line x1="452.4" y1="764.9" x2="467.4" y2="764.9" stroke="#000" stroke-width="0.7" />
<line x1="452.4" y1="767.6" x2="467.4" y2="767.6" stroke="#000" stroke-width="0.7" />
<path d="M446.6 765.1L448.9 769.24L444.3 769.24Z" fill="#000"/>
<path d="M453 762.1L455.3 766.24L450.7 766.24Z" fill="#000"/>
<path d="M459.7 764.3L462 768.44L457.4 768.44Z" fill="#000"/>
<path d="M466.3 763.7L468.6 767.84L464 767.84Z" fill="#000"/>
<path d="M473 765.1L475.3 769.24L470.7 769.24Z" fill="#000"/>
<line x1="500" y1="767.7" x2="500" y2="769.4" stroke="#000" stroke-width="0.7" />
<line x1="492.5" y1="767.7" x2="507.5" y2="767.7" stroke="#000" stroke-width="0.7" />
<line x1="492.5" y1="769.4" x2="507.5" y2="769.4" stroke="#000" stroke-width="0.7" />
<path d="M486.6 767L488.9 771.14L484.3 771.14Z" fill="#000"/>
<path d="M493.2 765.7L495.5 769.84L490.9 769.84Z" fill="#000"/>
<path d="M499.9 766.5L502.2 770.64L497.6 770.64Z" fill="#000"/>
<path d="M506.6 765.7L508.9 769.84L504.3 769.84Z" fill="#000"/>
<path d="M513.2 767.6L515.5 771.74L510.9 771.74Z" fill="#000"/>
<line x1="541" y1="740.8" x2="541" y2="746.3" stroke="#000" stroke-width="0.7" />
<line x1="534" y1="740.8" x2="548" y2="740.8" stroke="#000" stroke-width="0.7" />
<line x1="534" y1="746.3" x2="548" y2="746.3" stroke="#000" stroke-width="0.7" />
<path d="M527.1 741L529.4 745.14L524.8 745.14Z" fill="#000"/>
<path d="M536.2 738.7L538.5 742.84L533.9 742.84Z" fill="#000"/>
<path d="M536.2 746.2L538.5 750.34L533.9 750.34Z" fill="#000"/>
<path d="M545.1 742.1L547.4 746.24L542.8 746.24Z" fill="#000"/>
<path d="M554 739.3L556.3 743.44L551.7 743.44Z" fill="#000"/>
<line x1="581.2" y1="750.2" x2="581.2" y2="756.3" stroke="#000" stroke-width="0.7" />
<line x1="574.2" y1="750.2" x2="588.2" y2="750.2" stroke="#000" stroke-width="0.7" />
<line x1="574.2" y1="756.3" x2="588.2" y2="756.3" stroke="#000" stroke-width="0.7" />
<path d="M567.6 749.6L569.9 753.74L565.3 753.74Z" fill="#000"/>
<path d="M567.6 754.6L569.9 758.74L565.3 758.74Z" fill="#000"/>
<path d="M576.5 747.9L578.8 752.04L574.2 752.04Z" fill="#000"/>
<path d="M585.3 752.3L587.6 756.44L583 756.44Z" fill="#000"/>
<path d="M594.2 749.8L596.5 753.94L591.9 753.94Z" fill="#000"/>
</svg>
</body></html>
